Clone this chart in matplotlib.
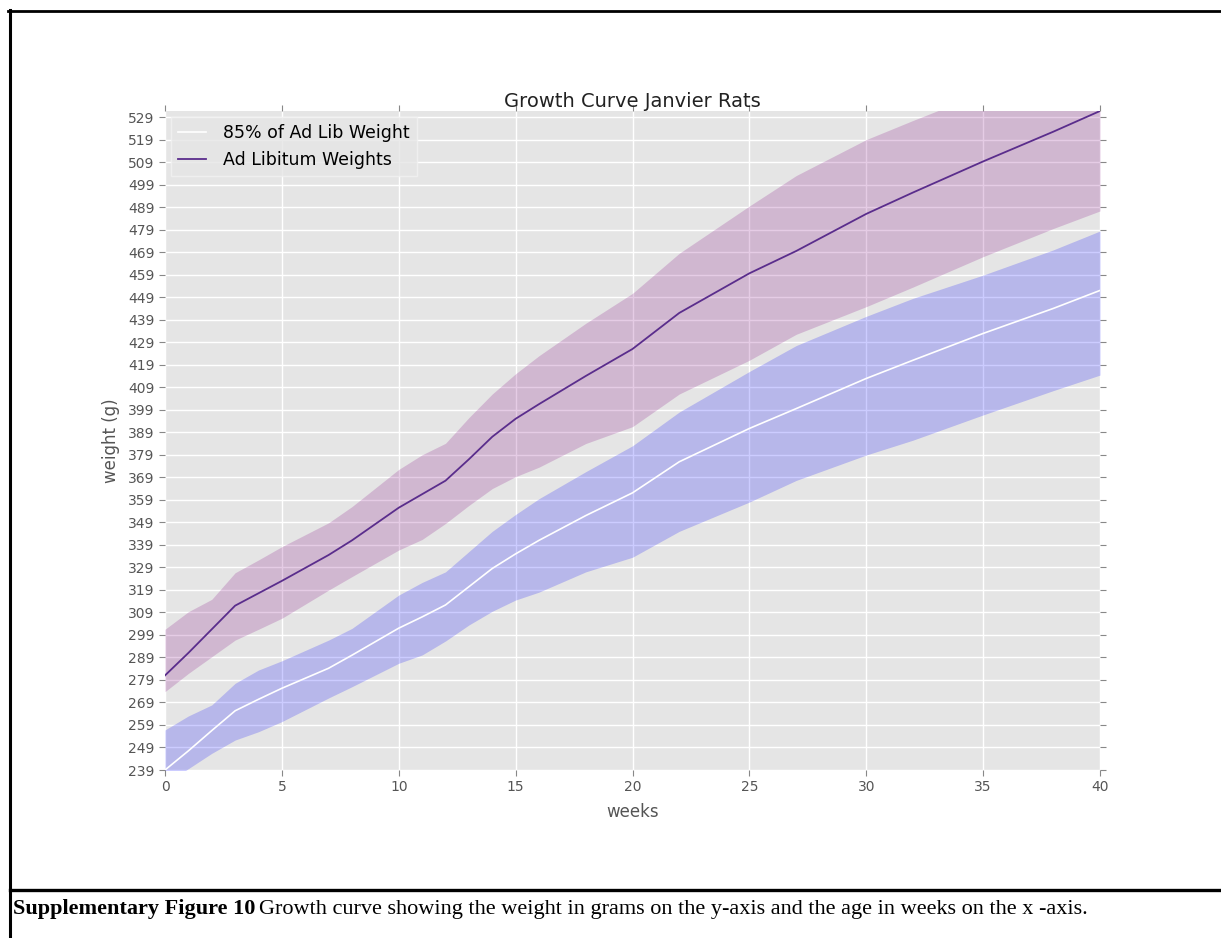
import numpy as np
import matplotlib
matplotlib.use("Agg")
import matplotlib.pyplot as plt
from matplotlib.lines import Line2D

# semanas y pesos (g)
weeks = [0, 1, 2, 3, 4, 5, 7, 8, 10, 11, 12, 13, 14, 15, 16, 18, 20, 22, 25, 27, 30, 32, 35, 38, 40]

adlib_mean = [281, 291, 301.5, 312, 317.5, 323, 334.5, 341, 355.5, 361.5, 367.5, 377, 387, 395, 401.5,
              414, 426, 442, 459.6, 469.5, 486, 495.5, 509.3, 522.5, 531.7]
adlib_hi = [301.5, 309.3, 314.8, 326.6, 332.3, 338.2, 348.8, 356, 372.5, 379, 384.1, 395.5, 406, 415, 423,
            437.4, 450.7, 468.5, 489.5, 503, 519, 527.5, 539.8, 553, 563]
adlib_lo = [273.8, 281.9, 289.3, 296.7, 301.5, 306.4, 318.9, 324.9, 336.7, 341.4, 348.5, 356.5, 364, 369.3, 373.5,
            384, 391.5, 406, 421, 432.5, 444.8, 453.5, 467, 479.5, 487.3]

r85_mean = [239, 247.5, 256.5, 265.3, 270.4, 275.3, 284.2, 290, 302, 307, 312.3, 320.4, 328.5, 335, 341,
            352, 362.1, 375.9, 390.7, 399.5, 412.9, 421, 432.9, 444, 452]
r85_hi = [256.8, 263, 267.9, 277.5, 283.4, 287.5, 296.7, 301.9, 316.7, 322.3, 327, 336, 345, 352.5, 359.5,
          371.5, 383, 398, 416, 427.5, 440.5, 448.5, 458.8, 470, 478.4]
r85_lo = [232.7, 239.6, 246.4, 252.3, 256, 260.5, 271, 276, 286.4, 290.1, 296.3, 303.4, 309.5, 314.5, 318,
          327, 333.5, 345, 358, 367.6, 378.9, 385.5, 396.7, 407.5, 414.4]

x_ticks = [0, 5, 10, 15, 20, 25, 30, 35, 40]

fig = plt.figure(figsize=(12.21, 9.38), dpi=100)
ax = fig.add_axes([165 / 1221, 1 - 770 / 938, (1100 - 165) / 1221, (770 - 111) / 938])

ax.set_facecolor('#e5e5e5')
for s in ax.spines.values():
    s.set_visible(False)
ax.set_axisbelow(True)
ax.grid(True, color='white', linewidth=1.0)

ax.fill_between(weeks, adlib_lo, adlib_hi, color='purple', alpha=0.2, linewidth=0)
ax.fill_between(weeks, r85_lo, r85_hi, color='blue', alpha=0.2, linewidth=0)
ax.plot(weeks, r85_mean, color='white', lw=1.2, label='85% of Ad Lib Weight')
ax.plot(weeks, adlib_mean, color='#5a2d8c', lw=1.3, label='Ad Libitum Weights')

ax.set_xlim(0, 40)
ax.set_ylim(min(r85_mean), max(adlib_mean))
ax.set_xticks(x_ticks)
ax.set_yticks(np.arange(239, 530, 10))
ax.tick_params(axis='both', which='both', direction='out', length=4, width=0.8,
               color='#888888', labelcolor='#555555', labelsize=10,
               top=True, right=True, labeltop=False, labelright=False)

ax.set_title('Growth Curve Janvier Rats', fontsize=14, color='#222222', pad=3)
ax.set_xlabel('weeks', fontsize=12, color='#555555', labelpad=6)
ax.set_ylabel('weight (g)', fontsize=12, color='#555555', labelpad=6)

leg = ax.legend(loc='upper left', fontsize=12.5, frameon=True, borderaxespad=0.35,
                handlelength=1.6, handletextpad=1.0, borderpad=0.4, fancybox=False)
leg.get_frame().set_facecolor('#e5e5e5')
leg.get_frame().set_edgecolor('#f2f2f2')
leg.get_frame().set_linewidth(1.0)

# marco de la pagina
fig.add_artist(Line2D([8 / 1221, 1], [1 - 11 / 938, 1 - 11 / 938], transform=fig.transFigure, color='black', lw=2))
fig.add_artist(Line2D([9.5 / 1221, 9.5 / 1221], [1 - 10 / 938, 0], transform=fig.transFigure, color='black', lw=2.2))
fig.add_artist(Line2D([9.5 / 1221, 1], [1 - 890 / 938, 1 - 890 / 938], transform=fig.transFigure, color='black', lw=2.4))

# pie de figura
t1 = fig.text(13 / 1221, 1 - 914 / 938, 'Supplementary Figure 10', family='Liberation Serif',
              fontweight='bold', fontsize=16, color='black')
fig.canvas.draw()
bb = t1.get_window_extent()
fig.text((bb.x1 + 4) / 1221, 1 - 914 / 938,
         'Growth curve showing the weight in grams on the y-axis and the age in weeks on the x -axis.',
         family='Liberation Serif', fontsize=16, color='black')

fig.savefig('out.png', dpi=100)
